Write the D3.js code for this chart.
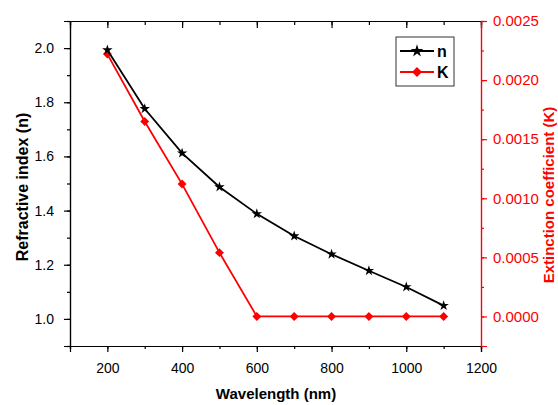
<!DOCTYPE html>
<html>
<head>
<meta charset="utf-8">
<script src="https://cdn.jsdelivr.net/npm/d3@7"></script>
<style>
  body { margin: 0; background: #fff; }
  svg { font-family: "Liberation Sans", Arial, sans-serif; }
</style>
</head>
<body>
<div id="chart"></div>
<script>
// Wavelength (nm) and the two optical constants
var wavelength = [200, 300, 400, 500, 600, 700, 800, 900, 1000, 1100];
var refractiveN = [1.993, 1.776, 1.612, 1.487, 1.388, 1.306, 1.239, 1.178, 1.118, 1.049];
var extinctionK = [0.00222, 0.00165, 0.00112, 0.00054, 0, 0, 0, 0, 0, 0];

var xTicks = [200, 400, 600, 800, 1000, 1200];
var yLeftTicks = [1.0, 1.2, 1.4, 1.6, 1.8, 2.0];
var yRightTicks = [0, 0.0005, 0.001, 0.0015, 0.002, 0.0025];

var width = 558, height = 405;
var margin = { top: 21, right: 77, bottom: 59, left: 70 };

var svg = d3.select('#chart').append('svg')
  .attr('width', width)
  .attr('height', height);

var x = d3.scaleLinear().domain([100, 1200]).range([margin.left, width - margin.right]);
var yN = d3.scaleLinear().domain([0.9, 2.1]).range([height - margin.bottom, margin.top]);
var yK = d3.scaleLinear().domain([-0.00025, 0.0025]).range([height - margin.bottom, margin.top]);

var red = '#ff0000';

// minor ticks go in between the labelled ones
function minorTicks(scale, step) {
  var d = scale.domain(), out = [];
  for (var v = d[0]; v <= d[1] + step / 1000; v += step) out.push(+v.toFixed(6));
  return out;
}

// bottom axis
var bottomAxis = svg.append('g').attr('transform', `translate(0,${height - margin.bottom})`);
bottomAxis.call(d3.axisBottom(x).tickValues(minorTicks(x, 100)).tickSize(3).tickFormat(''));
bottomAxis.append('g').call(d3.axisBottom(x).tickValues(xTicks).tickSize(6).tickFormat(d3.format('d')));

// top border with inward ticks
var topAxis = svg.append('g').attr('transform', `translate(0,${margin.top})`);
topAxis.call(d3.axisBottom(x).tickValues(minorTicks(x, 100)).tickSize(4).tickFormat(''));
topAxis.append('g').call(d3.axisBottom(x).tickValues(xTicks).tickSize(7).tickFormat(''));

// left axis
var leftAxis = svg.append('g').attr('transform', `translate(${margin.left},0)`);
leftAxis.call(d3.axisLeft(yN).tickValues(minorTicks(yN, 0.1)).tickSize(3).tickFormat(''));
leftAxis.append('g').call(d3.axisLeft(yN).tickValues(yLeftTicks).tickSize(6).tickFormat(d3.format('.1f')));

// right axis (red)
var rightAxis = svg.append('g').attr('transform', `translate(${width - margin.right},0)`);
rightAxis.call(d3.axisRight(yK).tickValues(minorTicks(yK, 0.00025)).tickSize(3).tickFormat(''));
rightAxis.append('g').call(d3.axisRight(yK).tickValues(yRightTicks).tickSize(6).tickFormat(d3.format('.4f')));

svg.selectAll('.domain').attr('stroke', '#000').attr('stroke-width', 1.2);
svg.selectAll('.tick line').attr('stroke', '#000').attr('stroke-width', 1.2);
svg.selectAll('.tick text').attr('font-size', 14).attr('fill', '#000');
svg.selectAll('g[font-family]').attr('font-family', null);
bottomAxis.selectAll('.tick text').attr('y', 27).attr('dy', null);
rightAxis.selectAll('.domain, .tick line').attr('stroke', red);
rightAxis.selectAll('.tick text').attr('fill', red).attr('x', 12).attr('font-size', 15);
leftAxis.selectAll('.tick text').attr('x', -16);

// axis titles
svg.append('text')
  .attr('x', 276)
  .attr('y', 399)
  .attr('text-anchor', 'middle')
  .attr('font-weight', 'bold')
  .attr('font-size', 15)
  .text('Wavelength (nm)');

svg.append('text')
  .attr('transform', 'translate(28,187) rotate(-90)')
  .attr('text-anchor', 'middle')
  .attr('font-weight', 'bold')
  .attr('font-size', 16)
  .text('Refractive index (n)');

svg.append('text')
  .attr('transform', 'translate(554,195) rotate(-90)')
  .attr('text-anchor', 'middle')
  .attr('font-weight', 'bold')
  .attr('font-size', 15)
  .attr('fill', red)
  .text('Extinction coefficient (K)');

// series
var nData = wavelength.map((w, i) => ({ w: w, v: refractiveN[i] }));
var kData = wavelength.map((w, i) => ({ w: w, v: extinctionK[i] }));

var star = d3.symbol().type(d3.symbolStar).size(34);
var square = d3.symbol().type(d3.symbolSquare).size(40);

svg.append('path')
  .datum(kData)
  .attr('fill', 'none')
  .attr('stroke', red)
  .attr('stroke-width', 1.8)
  .attr('d', d3.line().x((d) => x(d.w)).y((d) => yK(d.v)));

svg.append('g').selectAll('path')
  .data(kData)
  .join('path')
  .attr('transform', (d) => `translate(${x(d.w)},${yK(d.v)}) rotate(45)`)
  .attr('d', square)
  .attr('fill', red);

svg.append('path')
  .datum(nData)
  .attr('fill', 'none')
  .attr('stroke', '#000')
  .attr('stroke-width', 1.8)
  .attr('d', d3.line().x((d) => x(d.w)).y((d) => yN(d.v)));

svg.append('g').selectAll('path')
  .data(nData)
  .join('path')
  .attr('transform', (d) => `translate(${x(d.w)},${yN(d.v)})`)
  .attr('d', star)
  .attr('fill', '#000');

// legend
var legend = svg.append('g').attr('transform', 'translate(396,37)');
legend.append('rect')
  .attr('width', 58).attr('height', 49)
  .attr('fill', '#fff').attr('stroke', '#333').attr('stroke-width', 1);

var legendItems = [
  { label: 'n', color: '#000', shape: d3.symbol().type(d3.symbolStar).size(50), rot: 0 },
  { label: 'K', color: red, shape: d3.symbol().type(d3.symbolSquare).size(50), rot: 45 },
];
legendItems.forEach((item, i) => {
  var row = legend.append('g').attr('transform', `translate(0,${14 + i * 21})`);
  row.append('line').attr('x1', 4).attr('x2', 38).attr('stroke', item.color).attr('stroke-width', 1.8);
  row.append('path').attr('transform', `translate(21,0) rotate(${item.rot})`)
    .attr('d', item.shape).attr('fill', item.color);
  row.append('text').attr('x', 41).attr('dy', '0.36em')
    .attr('font-size', 16).attr('font-weight', 'bold').text(item.label);
});
</script>
</body>
</html>
